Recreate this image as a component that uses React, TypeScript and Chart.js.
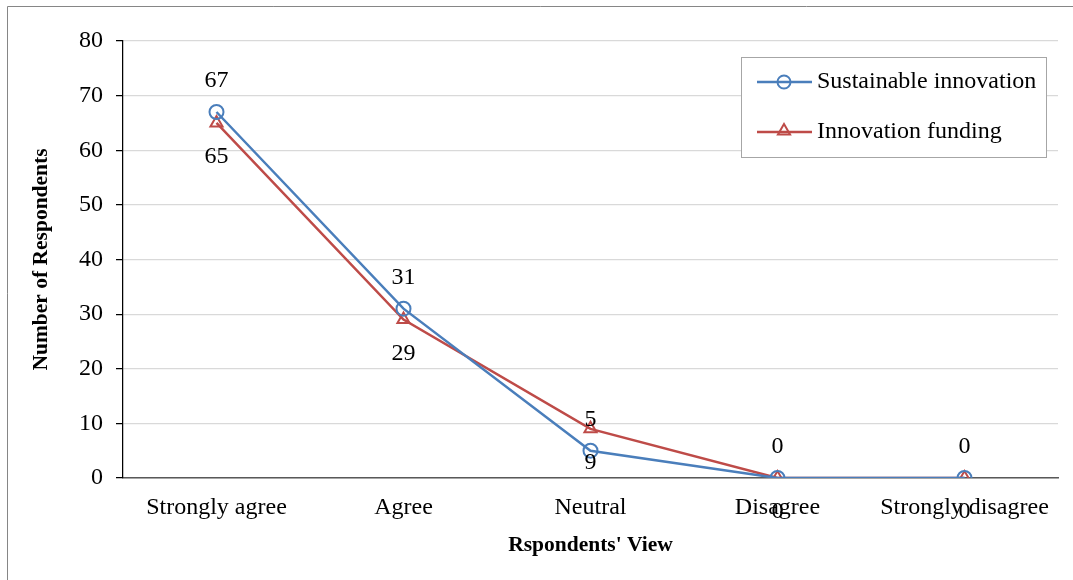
import React, { useEffect, useRef } from "react";
import { Chart, registerables } from "chart.js";

Chart.register(...registerables);

const categories = ["Strongly agree", "Agree", "Neutral", "Disagree", "Strongly disagree"];
const sustainableInnovation = [67, 31, 5, 0, 0];
const innovationFunding = [65, 29, 9, 0, 0];
const seriesNames = ["Sustainable innovation", "Innovation funding"];
const yTitle = "Number of Respondents";
const xTitle = "Rspondents' View";

const BLUE = "#4A7EBB";
const RED = "#BE4B48";
const FONT = "'Liberation Serif', 'Times New Roman', serif";

const extrasPlugin = {
  id: "extras",
  afterDatasetsDraw(chart: any) {
    const ctx = chart.ctx;
    ctx.save();
    ctx.font = `24px ${FONT}`;
    ctx.fillStyle = "#000";
    ctx.textAlign = "center";
    ctx.textBaseline = "middle";
    chart.data.datasets.forEach((ds: any, di: number) => {
      const meta = chart.getDatasetMeta(di);
      meta.data.forEach((pt: any, i: number) => {
        const off = di === 0 ? -31 : 34;
        ctx.fillText(String(ds.data[i]), pt.x, pt.y + off);
      });
    });
    ctx.restore();
  },
  afterDraw(chart: any) {
    const ctx = chart.ctx;
    ctx.save();
    // outer border
    ctx.strokeStyle = "#868686";
    ctx.lineWidth = 1;
    ctx.beginPath();
    ctx.moveTo(7.5, 580);
    ctx.lineTo(7.5, 6.5);
    ctx.lineTo(1073, 6.5);
    ctx.stroke();

    // legend
    const bx = 741.5, by = 57.5, bw = 305, bh = 100;
    ctx.fillStyle = "#fff";
    ctx.fillRect(bx, by, bw, bh);
    ctx.strokeStyle = "#A6A6A6";
    ctx.lineWidth = 1;
    ctx.strokeRect(bx, by, bw, bh);
    const rows = [82, 132];
    chart.data.datasets.forEach((ds: any, di: number) => {
      const y = rows[di];
      ctx.strokeStyle = ds.borderColor;
      ctx.lineWidth = 2.5;
      ctx.beginPath();
      ctx.moveTo(757, y);
      ctx.lineTo(812, y);
      ctx.stroke();
      ctx.lineWidth = 2;
      ctx.beginPath();
      if (di === 0) {
        ctx.arc(784, y, 6.5, 0, Math.PI * 2);
      } else {
        const r = 7;
        for (let k = 0; k < 3; k++) {
          const a = (k * 2 * Math.PI) / 3;
          const px = 784 + Math.sin(a) * r;
          const py = y - 1 - Math.cos(a) * r;
          if (k === 0) ctx.moveTo(px, py);
          else ctx.lineTo(px, py);
        }
        ctx.closePath();
      }
      ctx.stroke();
      ctx.fillStyle = "#000";
      ctx.font = `24px ${FONT}`;
      ctx.textAlign = "left";
      ctx.textBaseline = "middle";
      ctx.fillText(ds.label, 817, y);
    });
    ctx.restore();
  },
};

export default function App() {
  const ref = useRef<HTMLCanvasElement>(null);
  useEffect(() => {
    if (!ref.current) return;
    const chart = new Chart(ref.current, {
      type: "line",
      data: {
        labels: categories,
        datasets: [
          {
            label: seriesNames[0],
            data: sustainableInnovation,
            borderColor: BLUE,
            backgroundColor: BLUE,
            borderWidth: 2.5,
            pointStyle: "circle",
            pointRadius: 7,
            pointBorderWidth: 2,
            pointBackgroundColor: "rgba(0,0,0,0)",
            pointBorderColor: BLUE,
            tension: 0,
          },
          {
            label: seriesNames[1],
            data: innovationFunding,
            borderColor: RED,
            backgroundColor: RED,
            borderWidth: 2.5,
            pointStyle: "triangle",
            pointRadius: 7,
            pointBorderWidth: 2,
            pointBackgroundColor: "rgba(0,0,0,0)",
            pointBorderColor: RED,
            tension: 0,
          },
        ],
      },
      options: {
        animation: false,
        responsive: false,
        devicePixelRatio: 1,
        layout: { padding: { top: 41, right: 15, left: 0, bottom: 0 } },
        plugins: { legend: { display: false }, tooltip: { enabled: false } },
        scales: {
          x: {
            offset: true,
            grid: { display: false, drawTicks: false },
            border: { display: true, color: "#595959", width: 1.5 },
            ticks: { color: "#000", font: { family: FONT, size: 24 }, padding: 15, maxRotation: 0, autoSkip: false },
            title: { display: true, text: xTitle, color: "#000", font: { family: FONT, size: 21.5, weight: "bold" }, padding: { top: 0, bottom: 22 } },
            afterFit: (s: any) => { s.height = 102; },
          },
          y: {
            min: 0,
            max: 80,
            ticks: { stepSize: 10, color: "#000", font: { family: FONT, size: 24 }, padding: 13 },
            grid: { color: "#D9D9D9", tickColor: "#000", tickLength: 7, lineWidth: 1.25 },
            border: { display: true, color: "#000", width: 1.25 },
            title: { display: true, text: yTitle, color: "#000", font: { family: FONT, size: 21.5, weight: "bold" }, padding: { top: 29, bottom: 0 } },
            afterFit: (s: any) => { s.width = 123; },
          },
        },
      },
      plugins: [extrasPlugin],
    });
    return () => chart.destroy();
  }, []);
  return (
    <div style={{ position: "absolute", left: 0, top: 0, width: 1073, height: 580, background: "#fff" }}>
      <canvas ref={ref} width={1073} height={580} style={{ display: "block", width: 1073, height: 580 }} />
    </div>
  );
}
